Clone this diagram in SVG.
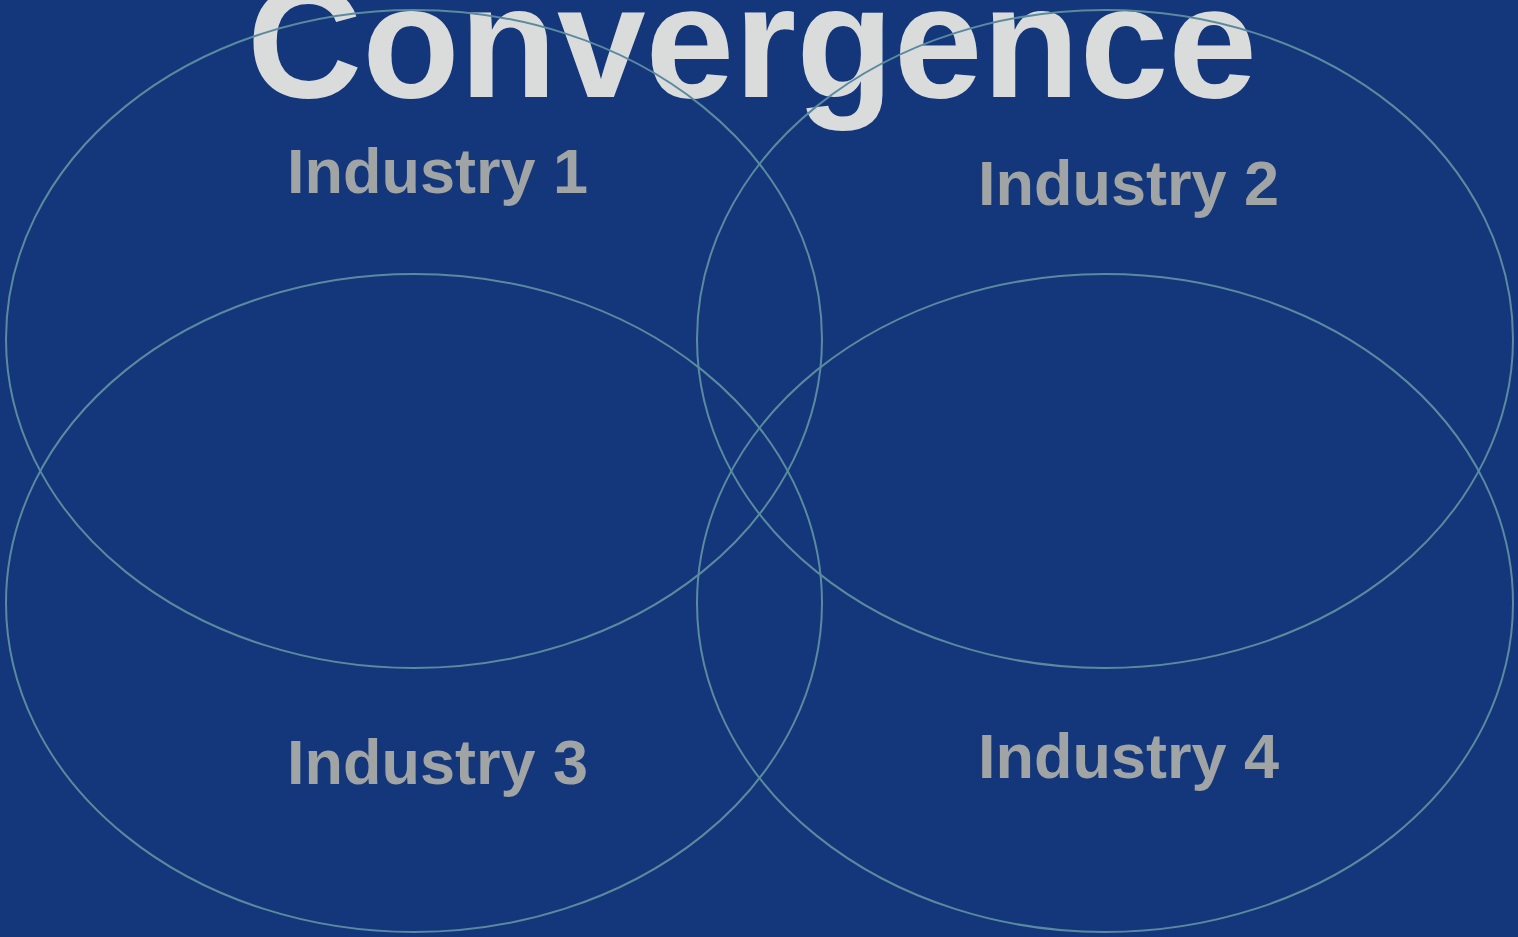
<svg xmlns="http://www.w3.org/2000/svg" width="1518" height="937" viewBox="0 0 1518 937">
<style>
.title{font-family:"Liberation Sans",Arial,sans-serif;font-weight:bold;font-size:160px;fill:#dadcdc}
.lbl{font-family:"Liberation Sans",Arial,sans-serif;font-weight:bold;font-size:63px;fill:#a0a4a4}
.ring{fill:none;stroke:#5a8aa0;stroke-width:2}
</style>
<rect width="1518" height="937" fill="#13377a"/>
<text class="title" x="247" y="97" textLength="1010" lengthAdjust="spacingAndGlyphs">Convergence</text>
<g id="industry1"><text class="lbl" x="287" y="193">Industry 1</text></g>
<g id="industry2"><text class="lbl" x="978" y="205">Industry 2</text></g>
<g id="industry3"><text class="lbl" x="287" y="784">Industry 3</text></g>
<g id="industry4"><text class="lbl" x="978" y="778">Industry 4</text></g>
<g id="connectors">
<ellipse class="ring" cx="414" cy="339" rx="408" ry="329"/>
<ellipse class="ring" cx="1105" cy="339" rx="408" ry="329"/>
<ellipse class="ring" cx="414" cy="603" rx="408" ry="329"/>
<ellipse class="ring" cx="1105" cy="603" rx="408" ry="329"/>
</g>
</svg>
